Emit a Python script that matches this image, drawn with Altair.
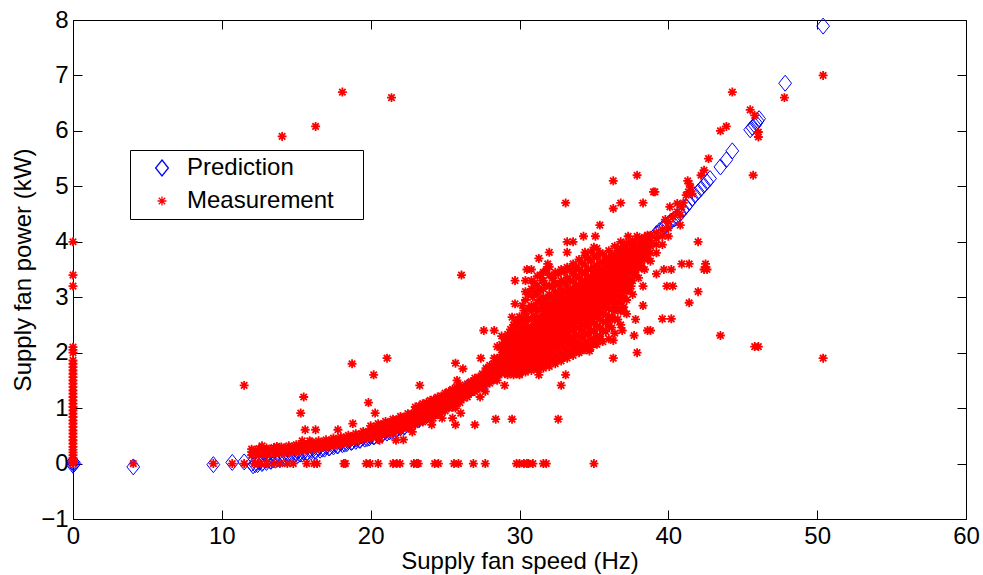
import altair as alt
import pandas as pd

FONT = "Liberation Sans"

x_ticks = [0, 10, 20, 30, 40, 50, 60]
y_ticks = [-1, 0, 1, 2, 3, 4, 5, 6, 7, 8]

# ---------------- Prediction (blue diamonds) ----------------
pred_speed = [0, 0.1, 0, 0, 4.05, 9.43, 10.7, 11.5,
              12.0, 12.5, 13.0, 13.5, 14.0, 14.5, 15.0, 15.5, 16.0, 16.5,
              17.0, 17.5, 18.0, 18.5, 19.0, 19.5, 20.0, 20.5, 21.0, 21.5,
              22.0, 22.5, 23.0, 23.5, 24.0, 24.5, 25.0, 25.5, 26.0, 26.5,
              27.0, 27.5, 28.0, 28.5, 29.0, 29.5, 30.0, 30.5, 31.0, 31.5,
              32.0, 32.5, 33.0, 33.5, 34.0, 34.5, 35.0, 35.5, 36.0, 36.5,
              37.0, 37.5, 38.0, 38.5, 39.0, 39.2, 39.4, 39.6, 39.8, 40.0,
              40.2, 40.4, 40.6, 40.8, 41.0, 41.2, 41.4, 41.6, 41.8, 42.0,
              42.2, 42.4, 42.6, 42.8, 43.5, 43.9, 44.3, 45.5, 45.65, 45.8,
              45.9, 46.0, 46.1, 47.85, 50.4]
pred_power = [0, 0, 0.03, -0.03, -0.06, -0.02, 0.02, 0.03,
              0.00, 0.03, 0.06, 0.09, 0.12, 0.15, 0.18, 0.21, 0.25, 0.28,
              0.31, 0.34, 0.37, 0.40, 0.44, 0.47, 0.50, 0.54, 0.58, 0.62,
              0.67, 0.73, 0.80, 0.87, 0.95, 1.03, 1.12, 1.21, 1.30, 1.37,
              1.43, 1.50, 1.56, 1.64, 1.72, 1.81, 1.90, 1.97, 2.05, 2.12,
              2.20, 2.29, 2.38, 2.47, 2.57, 2.68, 2.82, 2.96, 3.10, 3.25,
              3.40, 3.58, 3.76, 3.93, 4.08, 4.15, 4.20, 4.24, 4.28, 4.33,
              4.37, 4.41, 4.45, 4.51, 4.58, 4.64, 4.71, 4.78, 4.84, 4.90,
              4.96, 5.02, 5.08, 5.14, 5.35, 5.48, 5.64, 6.02, 6.06, 6.10,
              6.14, 6.18, 6.22, 6.86, 7.89]
# lower side of the dense prediction band
pred_low_speed = [12.25, 12.75, 13.25, 13.75, 14.25, 14.75, 15.25, 15.75,
                  16.25, 16.75, 17.25, 17.75, 18.25, 18.75, 19.25, 19.75,
                  20.25, 20.75, 21.25, 21.75, 22.25, 22.75, 23.25, 23.75,
                  24.25, 24.75, 25.25, 25.75, 26.25, 26.75, 27.25, 27.75]
pred_low_power = [-0.02, 0.02, 0.05, 0.08, 0.11, 0.14, 0.17, 0.2,
                  0.23, 0.26, 0.29, 0.32, 0.35, 0.39, 0.42, 0.45,
                  0.49, 0.53, 0.57, 0.61, 0.66, 0.72, 0.79, 0.86,
                  0.94, 1.02, 1.11, 1.2, 1.29, 1.36, 1.42, 1.49]
# bottom edge of the dense prediction band
pred_edge_speed = [12.1, 12.4, 12.7, 13.0, 13.3, 13.6, 13.9, 14.2, 14.5,
                   14.8, 15.1, 15.4, 15.7, 16.0, 16.3, 16.6, 16.9, 17.2,
                   17.5, 17.8, 18.1, 18.4, 18.7, 19.0, 19.3, 19.6, 19.9,
                   20.2, 20.5, 20.8, 21.1, 21.4, 21.7, 22.0, 22.3, 22.6,
                   22.9, 23.2, 23.5, 23.8, 24.1, 24.4, 24.7, 25.0, 25.3,
                   25.6, 25.9, 26.2, 26.5, 26.8]
pred_edge_power = [-0.04, -0.02, 0.0, 0.02, 0.04, 0.06, 0.08, 0.09, 0.11,
                   0.13, 0.15, 0.17, 0.19, 0.21, 0.22, 0.24, 0.26, 0.28,
                   0.3, 0.32, 0.34, 0.36, 0.38, 0.4, 0.42, 0.44, 0.46,
                   0.48, 0.5, 0.53, 0.55, 0.58, 0.61, 0.64, 0.67, 0.71,
                   0.75, 0.79, 0.83, 0.88, 0.92, 0.97, 1.02, 1.07, 1.12,
                   1.17, 1.22, 1.27, 1.32, 1.36]

# ---------------- Measurement (red asterisks) ----------------
# measurements recorded at zero fan speed
zero_speed_power = [0, 0.02, 0.05, 0.1, 0.15, 0.2, 0.25, 0.3, 0.36, 0.42,
                    0.48, 0.54, 0.6, 0.66, 0.72, 0.78, 0.84, 0.9, 0.96, 1.02,
                    1.08, 1.14, 1.2, 1.26, 1.32, 1.38, 1.44, 1.5, 1.56, 1.62,
                    1.68, 1.74, 1.8, 1.86, 2.0, 2.05, 2.1, 3.2, 3.4, 4.0]

# measurements recorded with zero power
zero_power_speed = [4.05, 9.43, 10.7, 11.5, 12.2, 12.4, 12.6, 13.0, 13.5,
                    13.9, 14.4, 14.8, 15.7, 16.2, 16.4, 18.2, 18.3, 19.7,
                    19.96, 20.5, 21.5, 21.75, 21.97, 22.9, 23.1, 23.2, 24.3,
                    24.55, 25.6, 25.9, 26.9, 27.7, 29.8, 30.0, 30.3, 30.5,
                    30.6, 30.9, 31.6, 31.8, 35.0]

# dense band, low speeds (column speed -> powers)
band_speed = [12.0, 12.5, 13.0, 13.5, 14.0, 14.5, 15.0, 15.5, 16.0, 16.5,
              17.0, 17.5, 18.0, 18.5, 19.0, 19.5, 20.0, 20.5, 21.0, 21.5,
              22.0, 22.5, 23.0, 23.5, 24.0, 24.5, 25.0, 25.5, 26.0, 26.5,
              27.0, 27.5, 28.0, 28.5]
band_power = [
    [0.15, 0.21, 0.26], [0.15, 0.21, 0.27], [0.16, 0.22, 0.28],
    [0.17, 0.23, 0.29], [0.18, 0.24, 0.3], [0.19, 0.26, 0.32],
    [0.21, 0.28, 0.34], [0.23, 0.3, 0.36], [0.25, 0.32, 0.39],
    [0.27, 0.34, 0.41], [0.29, 0.36, 0.43], [0.32, 0.39, 0.46],
    [0.34, 0.41, 0.48], [0.37, 0.44, 0.51], [0.4, 0.47, 0.54],
    [0.43, 0.5, 0.58], [0.46, 0.53, 0.61, 0.68], [0.49, 0.57, 0.65, 0.72],
    [0.53, 0.61, 0.69, 0.76], [0.56, 0.65, 0.73, 0.8],
    [0.6, 0.69, 0.77, 0.85], [0.64, 0.73, 0.82, 0.9],
    [0.7, 0.78, 0.86, 0.94, 1.02], [0.75, 0.84, 0.92, 1.0, 1.08],
    [0.82, 0.9, 0.98, 1.06, 1.14], [0.88, 0.96, 1.04, 1.12, 1.2],
    [0.95, 1.03, 1.11, 1.19, 1.27], [1.02, 1.1, 1.18, 1.26, 1.34],
    [1.1, 1.18, 1.26, 1.34, 1.42], [1.2, 1.28, 1.36, 1.44],
    [1.3, 1.38, 1.46, 1.54], [1.38, 1.46, 1.54, 1.62],
    [1.45, 1.53, 1.61, 1.69, 1.77], [1.5, 1.58, 1.66, 1.74, 1.82, 1.9]]
band2_speed = [12.25, 12.75, 13.25, 13.75, 14.25, 14.75, 15.25, 15.75,
               16.25, 16.75, 17.25, 17.75, 18.25, 18.75, 19.25, 19.75,
               20.25, 20.75, 21.25, 21.75, 22.25, 22.75, 23.25, 23.75,
               24.25, 24.75, 25.25, 25.75, 26.25, 26.75, 27.25, 27.75, 28.25]
band2_power = [
    [0.17, 0.24], [0.18, 0.25], [0.19, 0.26], [0.2, 0.27], [0.21, 0.28],
    [0.22, 0.3], [0.24, 0.31], [0.26, 0.34], [0.28, 0.36], [0.3, 0.38],
    [0.32, 0.41], [0.35, 0.43], [0.37, 0.46], [0.4, 0.49], [0.43, 0.52],
    [0.46, 0.55], [0.5, 0.59, 0.66], [0.53, 0.62, 0.7], [0.57, 0.66, 0.74],
    [0.6, 0.7, 0.79], [0.65, 0.74, 0.84], [0.7, 0.8, 0.9],
    [0.76, 0.86, 0.96, 1.04], [0.82, 0.92, 1.02, 1.1],
    [0.88, 0.98, 1.08, 1.16], [0.94, 1.04, 1.14, 1.22],
    [1.0, 1.1, 1.2, 1.3], [1.08, 1.18, 1.28, 1.38], [1.18, 1.28, 1.38],
    [1.28, 1.38, 1.48], [1.36, 1.46, 1.56], [1.44, 1.54, 1.64, 1.72],
    [1.5, 1.6, 1.7, 1.8]]

# dense cloud, mid/high speeds (column speed -> powers)
cloud_speed = [28.8, 29.2, 29.6, 30.0, 30.4, 30.8, 31.2, 31.6, 32.0, 32.4,
               32.8, 33.2, 33.6, 34.0, 34.4, 34.8, 35.2, 35.6, 36.0, 36.4,
               36.8, 37.2, 37.6, 38.0, 38.4, 38.8, 39.2, 39.6, 40.0]
cloud_power = [
    [1.62, 1.72, 1.8, 1.88, 1.96, 2.05, 2.15, 2.3],
    [1.6, 1.7, 1.78, 1.86, 1.94, 2.02, 2.1, 2.2, 2.33],
    [1.6, 1.7, 1.8, 1.9, 1.98, 2.06, 2.14, 2.24, 2.36, 2.5],
    [1.62, 1.72, 1.82, 1.92, 2.0, 2.08, 2.16, 2.26, 2.38, 2.52, 2.65],
    [1.65, 1.75, 1.85, 1.95, 2.05, 2.13, 2.21, 2.3, 2.42, 2.56, 2.7, 2.95, 3.1],
    [1.68, 1.8, 1.9, 2.0, 2.1, 2.2, 2.28, 2.36, 2.46, 2.6, 2.75, 2.85, 3.15, 3.3],
    [1.7, 1.85, 1.95, 2.05, 2.15, 2.25, 2.35, 2.43, 2.52, 2.62, 2.75, 2.9, 3.05, 3.2, 3.38],
    [1.72, 1.85, 2.0, 2.1, 2.2, 2.3, 2.4, 2.48, 2.56, 2.65, 2.75, 2.88, 3.0, 3.15, 3.3, 3.45],
    [1.75, 1.9, 2.05, 2.15, 2.25, 2.35, 2.45, 2.53, 2.61, 2.7, 2.8, 2.9, 3.05, 3.2, 3.4, 3.55],
    [1.8, 1.95, 2.1, 2.22, 2.33, 2.43, 2.52, 2.6, 2.68, 2.76, 2.85, 2.95, 3.1, 3.25, 3.45],
    [1.85, 2.0, 2.15, 2.28, 2.4, 2.5, 2.59, 2.67, 2.75, 2.83, 2.92, 3.02, 3.15, 3.3, 3.5],
    [1.9, 2.05, 2.2, 2.33, 2.45, 2.56, 2.65, 2.73, 2.81, 2.89, 2.98, 3.08, 3.2, 3.35, 3.54],
    [1.95, 2.1, 2.25, 2.4, 2.52, 2.63, 2.72, 2.8, 2.88, 2.96, 3.05, 3.15, 3.28, 3.42, 3.6],
    [2.0, 2.15, 2.3, 2.45, 2.58, 2.69, 2.79, 2.87, 2.95, 3.03, 3.12, 3.22, 3.35, 3.5, 3.68],
    [2.05, 2.2, 2.35, 2.5, 2.64, 2.76, 2.86, 2.94, 3.02, 3.1, 3.19, 3.3, 3.42, 3.58, 3.75],
    [2.1, 2.25, 2.4, 2.56, 2.7, 2.82, 2.93, 3.01, 3.09, 3.17, 3.26, 3.37, 3.5, 3.65, 3.82],
    [2.15, 2.3, 2.48, 2.63, 2.77, 2.9, 3.0, 3.08, 3.16, 3.24, 3.33, 3.44, 3.57, 3.72, 3.88],
    [2.2, 2.4, 2.56, 2.7, 2.85, 2.97, 3.07, 3.15, 3.23, 3.31, 3.4, 3.51, 3.64, 3.78],
    [2.25, 2.48, 2.64, 2.8, 2.93, 3.05, 3.15, 3.23, 3.31, 3.39, 3.48, 3.58, 3.7, 3.84],
    [2.35, 2.6, 2.75, 2.9, 3.02, 3.13, 3.23, 3.31, 3.39, 3.47, 3.56, 3.66, 3.78, 3.92],
    [2.5, 2.75, 2.9, 3.02, 3.13, 3.23, 3.32, 3.4, 3.48, 3.56, 3.65, 3.75, 3.88],
    [2.7, 2.95, 3.1, 3.22, 3.33, 3.42, 3.5, 3.58, 3.66, 3.75, 3.85, 3.98],
    [3.05, 3.3, 3.45, 3.55, 3.63, 3.71, 3.8, 3.9, 4.02],
    [3.35, 3.52, 3.64, 3.74, 3.83, 3.92, 4.05],
    [3.5, 3.68, 3.8, 3.9, 3.98, 4.08],
    [3.65, 3.8, 3.92, 4.02, 4.12],
    [3.8, 3.95, 4.06, 4.16],
    [3.95, 4.1, 4.22],
    [4.1, 4.25, 4.36]]
cloud2_speed = [29.0, 29.4, 29.8, 30.2, 30.6, 31.0, 31.4, 31.8, 32.2, 32.6,
                33.0, 33.4, 33.8, 34.2, 34.6, 35.0, 35.4, 35.8, 36.2, 36.6,
                37.0, 37.4, 37.8, 38.2, 38.6]
cloud2_power = [
    [1.66, 1.76, 1.84, 1.92, 2.0, 2.1, 2.25],
    [1.65, 1.75, 1.83, 1.91, 1.99, 2.07, 2.16, 2.28, 2.42],
    [1.66, 1.76, 1.86, 1.95, 2.03, 2.11, 2.2, 2.31, 2.45, 2.58],
    [1.68, 1.78, 1.88, 1.97, 2.05, 2.13, 2.22, 2.33, 2.46, 2.6, 2.85],
    [1.72, 1.82, 1.92, 2.02, 2.1, 2.18, 2.26, 2.35, 2.47, 2.62, 2.8, 3.05],
    [1.75, 1.86, 1.96, 2.06, 2.16, 2.24, 2.32, 2.4, 2.5, 2.65, 2.82, 3.1, 3.25],
    [1.78, 1.9, 2.0, 2.1, 2.2, 2.29, 2.37, 2.45, 2.54, 2.64, 2.8, 2.95, 3.12, 3.4],
    [1.8, 1.95, 2.06, 2.16, 2.26, 2.35, 2.43, 2.51, 2.6, 2.7, 2.83, 2.97, 3.22, 3.5],
    [1.85, 2.0, 2.12, 2.22, 2.31, 2.4, 2.48, 2.56, 2.64, 2.73, 2.86, 3.0, 3.18, 3.35],
    [1.9, 2.06, 2.18, 2.28, 2.37, 2.46, 2.55, 2.63, 2.71, 2.8, 2.9, 3.05, 3.22, 3.42],
    [1.95, 2.1, 2.22, 2.34, 2.43, 2.52, 2.61, 2.69, 2.77, 2.86, 2.95, 3.1, 3.26, 3.45],
    [2.0, 2.15, 2.28, 2.4, 2.5, 2.59, 2.68, 2.76, 2.84, 2.93, 3.02, 3.12, 3.3, 3.5],
    [2.05, 2.2, 2.33, 2.46, 2.56, 2.66, 2.75, 2.83, 2.91, 3.0, 3.09, 3.2, 3.38, 3.55],
    [2.1, 2.26, 2.4, 2.52, 2.62, 2.72, 2.82, 2.9, 2.98, 3.06, 3.15, 3.26, 3.45, 3.62],
    [2.15, 2.32, 2.46, 2.58, 2.68, 2.78, 2.88, 2.97, 3.05, 3.13, 3.22, 3.33, 3.5, 3.7],
    [2.2, 2.38, 2.53, 2.65, 2.75, 2.85, 2.95, 3.04, 3.12, 3.2, 3.29, 3.4, 3.55, 3.75],
    [2.3, 2.45, 2.6, 2.72, 2.82, 2.92, 3.02, 3.11, 3.19, 3.27, 3.36, 3.47, 3.62, 3.8],
    [2.38, 2.55, 2.68, 2.8, 2.9, 3.0, 3.1, 3.19, 3.27, 3.35, 3.44, 3.55, 3.7],
    [2.45, 2.65, 2.78, 2.9, 3.0, 3.1, 3.19, 3.27, 3.35, 3.43, 3.52, 3.62, 3.76],
    [2.6, 2.8, 2.92, 3.02, 3.12, 3.2, 3.28, 3.36, 3.44, 3.52, 3.6, 3.7, 3.84],
    [2.75, 3.0, 3.12, 3.22, 3.3, 3.38, 3.46, 3.54, 3.62, 3.7, 3.8, 3.92],
    [3.15, 3.32, 3.42, 3.5, 3.58, 3.66, 3.75, 3.85, 3.96],
    [3.4, 3.5, 3.6, 3.68, 3.76, 3.85, 3.95],
    [3.55, 3.65, 3.75, 3.85, 3.95, 4.05],
    [3.7, 3.82, 3.93, 4.03, 4.12]]

# scattered individual measurements (speed, power)
scatter_points = [
    (11.5, 1.41), (15.5, 1.2), (15.3, 0.91), (15.6, 0.61), (16.3, 0.61),
    (17.8, 0.61), (18.75, 1.8), (21.1, 1.9), (20.2, 1.6), (19.85, 1.1),
    (20.3, 0.91), (18.8, 0.72), (23.3, 1.41), (12.7, 0.32), (13.7, 0.31),
    (15.4, 0.41), (15.9, 0.41), (20.6, 0.42), (21.5, 0.55), (21.7, 0.42),
    (22.2, 0.43), (22.8, 0.57), (24.1, 0.7), (24.2, 0.82), (24.8, 0.82),
    (25.5, 0.82), (25.7, 0.7), (25.7, 1.0), (26.05, 0.91), (27.0, 0.7),
    (27.35, 1.2), (27.7, 1.3), (25.7, 1.81), (25.8, 1.5), (26.2, 1.71),
    (27.4, 1.9), (28.3, 1.9), (27.6, 2.4), (28.3, 2.4), (28.5, 2.11),
    (29.1, 2.2), (26.1, 3.4), (28.4, 0.8), (29.5, 0.8), (32.6, 0.8),
    (29.0, 1.41), (32.8, 1.41), (30.0, 1.6), (31.3, 1.6), (33.1, 1.6),
    (32.5, 1.89), (33.5, 2.0), (34.1, 2.03), (34.7, 2.03), (33.9, 2.16),
    (35.1, 2.16), (35.4, 2.25), (36.3, 2.22), (36.3, 1.9), (37.9, 2.0),
    (37.7, 2.31), (36.9, 2.4), (38.6, 2.4), (38.8, 2.4), (36.1, 2.6),
    (37.8, 2.6), (36.4, 2.82), (37.0, 2.82), (38.3, 2.85), (39.6, 2.61),
    (40.2, 2.61), (41.4, 2.9), (42.0, 3.1), (37.5, 3.2), (38.3, 3.2),
    (39.9, 3.2), (40.3, 3.2), (39.2, 3.42), (39.7, 3.5), (40.2, 3.5),
    (40.9, 3.6), (41.4, 3.6), (42.4, 3.5), (42.5, 3.6), (42.6, 3.5),
    (43.5, 2.31), (45.8, 2.11), (46.05, 2.11), (50.4, 1.9),
    (29.5, 2.64), (29.7, 2.88), (30.3, 2.76), (30.9, 3.0), (29.7, 3.3),
    (30.4, 3.3), (31.5, 3.3), (32.3, 3.3), (30.5, 3.5), (30.8, 3.5),
    (31.3, 3.7), (31.9, 3.6), (32.0, 3.81), (33.1, 3.5), (33.6, 3.5),
    (33.2, 3.81), (34.4, 3.81), (33.2, 4.0), (33.6, 4.0), (34.3, 4.1),
    (35.1, 4.1), (35.0, 3.9), (35.1, 3.48), (36.1, 3.6), (36.5, 3.6),
    (37.1, 3.81), (36.8, 4.0), (37.3, 4.1), (37.9, 4.1), (38.1, 3.85),
    (38.6, 4.03), (35.4, 4.3), (36.3, 4.6), (33.1, 4.7), (36.8, 4.7),
    (38.3, 4.7), (36.3, 5.1), (37.9, 5.2), (39.1, 4.9), (39.0, 4.9),
    (40.1, 4.63), (40.6, 4.69), (40.9, 4.63), (40.6, 4.54), (40.8, 4.48),
    (40.8, 4.3), (41.2, 4.84), (41.35, 4.9), (41.5, 4.98), (41.6, 4.87),
    (41.3, 5.1), (41.4, 5.05), (42.2, 5.2), (42.4, 5.29), (42.7, 5.5),
    (42.0, 4.0), (39.8, 4.4), (40.3, 4.45), (41.0, 4.7),
    (43.5, 6.0), (43.9, 6.08), (44.3, 6.7), (45.5, 6.38), (45.8, 6.28),
    (46.05, 5.98), (46.05, 5.89), (45.7, 5.2), (47.8, 6.6), (50.4, 7.0),
    (14.05, 5.9), (16.3, 6.08), (18.1, 6.7), (21.4, 6.6)]

# ---------------- build tables ----------------
pred_df = pd.DataFrame({
    "speed": pred_edge_speed + pred_low_speed + pred_speed,
    "power": pred_edge_power + pred_low_power + pred_power,
    "series": "Prediction"})

m_speed, m_power = [], []
for p in zero_speed_power:
    m_speed.append(0.0); m_power.append(p)
for s in zero_power_speed:
    m_speed.append(s); m_power.append(0.0)
for cols_s, cols_p in ((band_speed, band_power), (band2_speed, band2_power),
                       (cloud_speed, cloud_power),
                       (cloud2_speed, cloud2_power)):
    for s, ps in zip(cols_s, cols_p):
        for p in ps:
            m_speed.append(s); m_power.append(p)
for s, p in scatter_points:
    m_speed.append(s); m_power.append(p)
meas_df = pd.DataFrame({"speed": m_speed, "power": m_power,
                        "series": "Measurement"})

DIAMOND = "M0,-1L0.8,0L0,1L-0.8,0Z"
STAR = ("M-0.56,0L0.56,0M0,-0.56L0,0.56M-0.4,-0.4L0.4,0.4"
        "M-0.4,0.4L0.4,-0.4")

series_domain = ["Prediction", "Measurement"]
color_scale = alt.Scale(domain=series_domain, range=["#0000ff", "#ff0000"])
shape_scale = alt.Scale(domain=series_domain, range=[DIAMOND, STAR])
x_scale = alt.Scale(domain=[0, 60], nice=False, zero=False)
y_scale = alt.Scale(domain=[-1, 8], nice=False, zero=False)

legend = alt.Legend(
    title="_", titleOrient="right", titleOpacity=0, titleFontSize=8,
    titlePadding=18,
    orient="none", legendX=57, legendY=130,
    labelFont=FONT, labelFontSize=24, labelColor="black", labelLimit=300,
    symbolSize=256, symbolStrokeWidth=1.3, symbolOpacity=1,
    fillColor="white", strokeColor="black", padding=6,
    rowPadding=9, symbolOffset=14, labelOffset=13,
)

common = dict(labelFont=FONT, labelFontSize=24, labelColor="black",
              tickColor="black", tickWidth=1, tickSize=9, offset=-9,
              domain=False, grid=False)

pred_layer = alt.Chart(pred_df).mark_point(
    filled=False, size=256, strokeWidth=1.0, opacity=1
).encode(
    x=alt.X("speed:Q", scale=x_scale, axis=alt.Axis(
        orient="bottom", values=x_ticks, labelPadding=5, labelFlush=False,
        title="Supply fan speed (Hz)", titleFont=FONT, titleFontSize=24,
        titleFontWeight="normal", titleColor="black",
        titleX=446.5, titleY=58, titleBaseline="alphabetic",
        titleAlign="center", **common)),
    y=alt.Y("power:Q", scale=y_scale, axis=alt.Axis(
        orient="left", values=y_ticks, labelPadding=5,
        title="Supply fan power (kW)", titleFont=FONT, titleFontSize=24,
        titleFontWeight="normal", titleColor="black", titleAngle=270,
        titleX=-52, titleY=249.5, titleBaseline="alphabetic",
        titleAlign="center", **common)),
    color=alt.Color("series:N", scale=color_scale, legend=legend),
    shape=alt.Shape("series:N", scale=shape_scale, legend=legend),
)

meas_layer = alt.Chart(meas_df).mark_point(
    filled=False, size=256, strokeWidth=1.8, opacity=1
).encode(
    x=alt.X("speed:Q", scale=x_scale, axis=alt.Axis(
        orient="top", values=x_ticks, labels=False, title=None, **common)),
    y=alt.Y("power:Q", scale=y_scale, axis=alt.Axis(
        orient="right", values=y_ticks, labels=False, title=None, **common)),
    color=alt.Color("series:N", scale=color_scale, legend=legend),
    shape=alt.Shape("series:N", scale=shape_scale, legend=legend),
)

chart = alt.layer(pred_layer, meas_layer).resolve_axis(
    x="independent", y="independent"
).properties(
    width=893, height=499,
    autosize=alt.AutoSizeParams(type="none"),
    padding={"left": 73, "top": 20, "right": 17, "bottom": 56},
    background="white",
).configure_view(stroke="black", strokeWidth=1)

chart.save("out.html", embed_options={"renderer": "svg", "actions": False})
